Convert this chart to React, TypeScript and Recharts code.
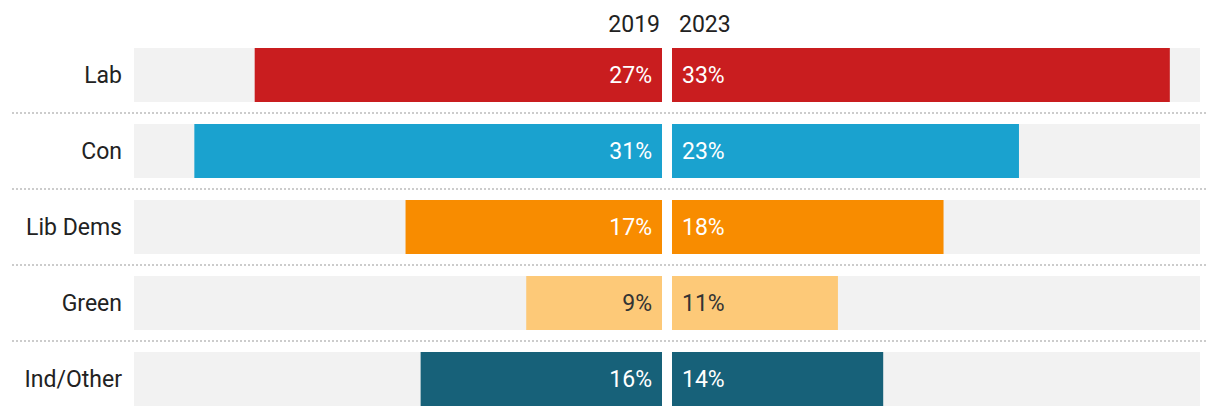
import React from 'react';
import { BarChart, Bar, XAxis, YAxis, Cell, LabelList } from 'recharts';

const parties = ['Lab', 'Con', 'Lib Dems', 'Green', 'Ind/Other'];
const share2019 = [27, 31, 17, 9, 16];
const share2023 = [33, 23, 18, 11, 14];
const partyColors = ['#C91D1F', '#1AA2CF', '#F88C00', '#FDC978', '#176179'];
const labelColors = ['#ffffff', '#ffffff', '#ffffff', '#333333', '#ffffff'];
const years = ['2019', '2023'];

const data = parties.map((p, i) => ({ party: p, v2019: share2019[i], v2023: share2023[i] }));

const FONT = 'Roboto, sans-serif';
const FS = 23;

const PartyTick = (props: any) => {
  const { x, y, payload, index } = props;
  const off = payload.offset || 0;
  return (
    <g>
      <text x={x} y={y} dy="0.355em" textAnchor="end" fill="#222" fontFamily={FONT} fontSize={FS}>
        {payload.value}
      </text>
      {index < parties.length - 1 && (
        <line x1={12} x2={1208} y1={y + off} y2={y + off} stroke="#cccccc" strokeWidth={2} strokeDasharray="2 2" />
      )}
    </g>
  );
};

const makeValueLabel = (side: 'left' | 'right') => (props: any) => {
  const { x, y, width, height, value, index } = props;
  const right = Math.max(x, x + width);
  const left = Math.min(x, x + width);
  const tx = side === 'left' ? right - 10 : left + 10;
  return (
    <text x={tx} y={y + height / 2} dy="0.355em" textAnchor={side === 'left' ? 'end' : 'start'}
      fill={labelColors[index]} fontFamily={FONT} fontSize={FS}>
      {value}%
    </text>
  );
};

const headerLabel = (text: string, side: 'left' | 'right') => (props: any) => {
  const vb = props.viewBox;
  const tx = side === 'left' ? vb.x + vb.width - 2 : vb.x + 7;
  return (
    <text x={tx} y={32} textAnchor={side === 'left' ? 'end' : 'start'} fill="#222" fontFamily={FONT} fontSize={FS}>
      {text}
    </text>
  );
};

export default function App() {
  return (
    <div style={{ position: 'absolute', left: 0, top: 0, width: 1220, height: 416, overflow: 'hidden', background: '#fff' }}>
      <div style={{ position: 'absolute', left: 0, top: 0 }}>
        <BarChart width={1220} height={417} data={data} layout="vertical"
          margin={{ top: 0, right: 558, bottom: 0, left: 0 }}>
          <XAxis type="number" xAxisId="x" orientation="top" domain={[0, 35]} reversed height={37}
            tick={false} axisLine={false} tickLine={false} label={headerLabel(years[0], 'left') as any} />
          <YAxis type="category" dataKey="party" width={134} axisLine={false} tickLine={false}
            tickMargin={6} tick={<PartyTick />} interval={0} />
          <Bar dataKey="v2019" xAxisId="x" barSize={54} background={{ fill: '#F2F2F2' }} isAnimationActive={false}>
            {data.map((d, i) => <Cell key={d.party} fill={partyColors[i]} />)}
            <LabelList dataKey="v2019" content={makeValueLabel('left') as any} />
          </Bar>
        </BarChart>
      </div>
      <div style={{ position: 'absolute', left: 662, top: 0 }}>
        <BarChart width={558} height={417} data={data} layout="vertical"
          margin={{ top: 0, right: 20, bottom: 0, left: 10 }}>
          <XAxis type="number" xAxisId="x" orientation="top" domain={[0, 35]} height={37}
            tick={false} axisLine={false} tickLine={false} label={headerLabel(years[1], 'right') as any} />
          <YAxis type="category" dataKey="party" hide width={0} />
          <Bar dataKey="v2023" xAxisId="x" barSize={54} background={{ fill: '#F2F2F2' }} isAnimationActive={false}>
            {data.map((d, i) => <Cell key={d.party} fill={partyColors[i]} />)}
            <LabelList dataKey="v2023" content={makeValueLabel('right') as any} />
          </Bar>
        </BarChart>
      </div>
    </div>
  );
}
